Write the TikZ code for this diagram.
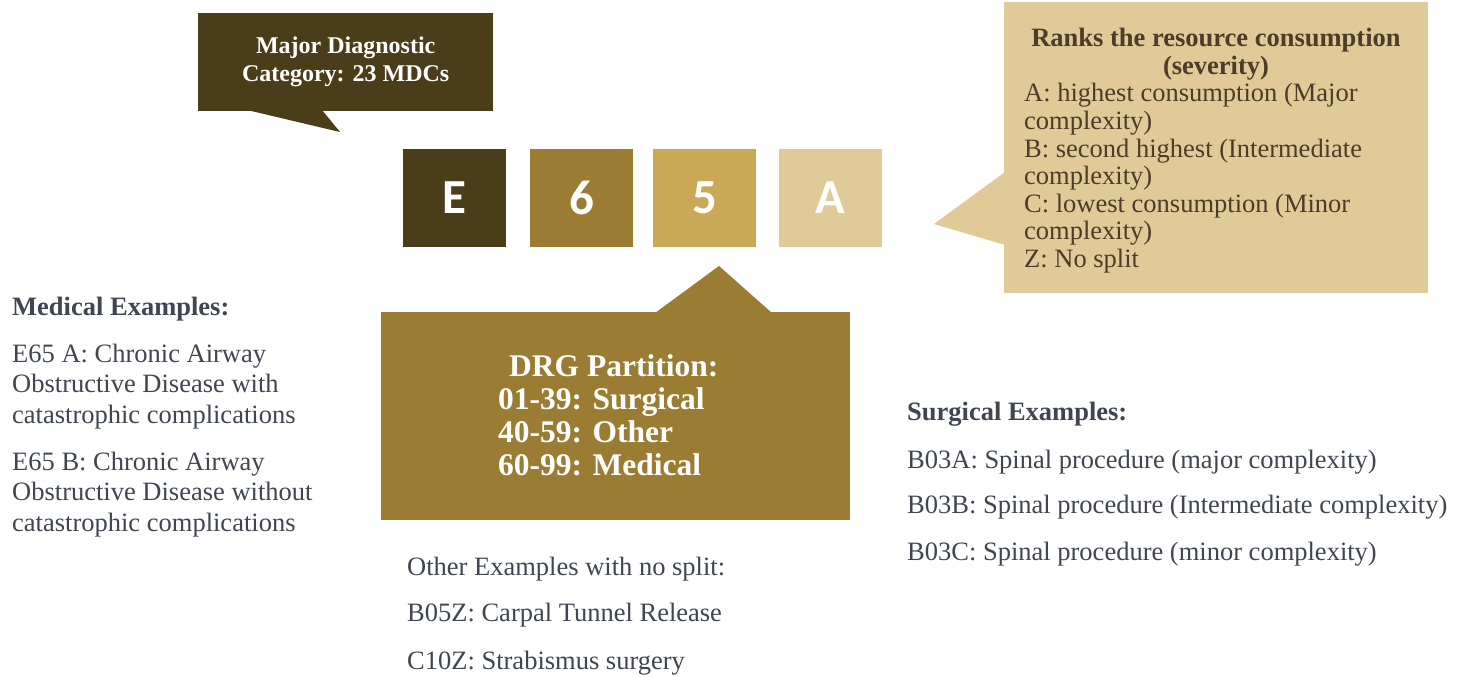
\documentclass[tikz,border=0pt]{standalone}
\usepackage{fontspec}
\setmainfont{Liberation Serif}
\newfontfamily\boxfont{Carlito}
\definecolor{cdark}{HTML}{4B3C1A}
\definecolor{cmid}{HTML}{9A7D33}
\definecolor{cgold}{HTML}{C9A857}
\definecolor{clight}{HTML}{DFCA98}
\definecolor{cgraytxt}{HTML}{3F4652}
\definecolor{cbrowntxt}{HTML}{4A3D2A}
\tikzset{
  letterbox/.style={minimum width=103pt, minimum height=98pt, inner sep=0pt, text=white,
    font=\boxfont\bfseries\fontsize{49}{52}\selectfont},
  bodytxt/.style={inner sep=0pt, anchor=base west, text=cgraytxt, font=\fontsize{26.5}{30}\selectfont},
  bodybold/.style={bodytxt, font=\bfseries\fontsize{26.5}{30}\selectfont},
  ranktxt/.style={inner sep=0pt, anchor=base west, text=cbrowntxt, font=\fontsize{26.5}{28}\selectfont},
  drgtxt/.style={inner sep=0pt, anchor=base west, text=white, font=\bfseries\fontsize{31.5}{33}\selectfont},
}
\begin{document}
\begin{tikzpicture}[x=1pt,y=-1pt]
\useasboundingbox[fill=white] (0,0) rectangle (1468,677);

% Major Diagnostic Category bubble
\node[fill=cdark, anchor=north west, minimum width=295pt, minimum height=98pt, inner sep=0pt,
      text=white, align=center, font=\bfseries\fontsize{24}{28}\selectfont] (mdc) at (198,13)
      {Major Diagnostic\\Category: 23 MDCs};
\fill[cdark] (247,110) -- (340,132) -- (322,110) -- cycle;

% code letters
\node[letterbox, fill=cdark] (E) at (454.5,198) {E};
\node[letterbox, fill=cmid] (six) at (581.5,198) {6};
\node[letterbox, fill=cgold] (five) at (704.5,198) {5};
\node[letterbox, fill=clight] (A) at (830.5,198) {A};

% Ranks bubble
\node[fill=clight, anchor=north west, minimum width=424pt, minimum height=291pt, inner sep=0pt] (rank) at (1004,2) {};
\fill[clight] (1005,172) -- (934,224) -- (1005,245) -- cycle;
\node[inner sep=0pt, anchor=base, text=cbrowntxt, font=\bfseries\fontsize{26.5}{28}\selectfont] (rt1) at (1216,47) {Ranks the resource consumption};
\node[inner sep=0pt, anchor=base, text=cbrowntxt, font=\bfseries\fontsize{26.5}{28}\selectfont] (rt2) at (1216,75) {(severity)};
\foreach \t [count=\i from 0] in {A: highest consumption (Major, complexity), B: second highest (Intermediate, complexity), C: lowest consumption (Minor, complexity), Z: No split}
  \node[ranktxt] (rank-\i) at (1024,102+27.5*\i) {\t};

% DRG partition bubble
\node[fill=cmid, anchor=north west, minimum width=469pt, minimum height=208pt, inner sep=0pt] (drg) at (381,312) {};
\fill[cmid] (655,313) -- (719,266) -- (772,313) -- cycle;
\node[drgtxt] (drg-0) at (509,376) {DRG Partition:};
\node[drgtxt] (drg-1) at (498,409) {01-39: Surgical};
\node[drgtxt] (drg-2) at (498,442) {40-59: Other};
\node[drgtxt] (drg-3) at (498,475) {60-99: Medical};

% Medical examples
\node[bodybold] (medh) at (12,315) {Medical Examples:};
\foreach \t [count=\i from 0] in {E65 A: Chronic Airway, Obstructive Disease with, catastrophic complications}
  \node[bodytxt] (meda-\i) at (12,362+30.5*\i) {\t};
\foreach \t [count=\i from 0] in {E65 B: Chronic Airway, Obstructive Disease without, catastrophic complications}
  \node[bodytxt] (medb-\i) at (12,470+30.5*\i) {\t};

% Surgical examples
\node[bodybold] (surh) at (907,420) {Surgical Examples:};
\node[bodytxt] (sur-1) at (907,468) {B03A: Spinal procedure (major complexity)};
\node[bodytxt] (sur-2) at (907,513) {B03B: Spinal procedure (Intermediate complexity)};
\node[bodytxt] (sur-3) at (907,560) {B03C: Spinal procedure (minor complexity)};

% Other examples
\node[bodytxt] (oth-0) at (407,575) {Other Examples with no split:};
\node[bodytxt] (oth-1) at (407,621) {B05Z: Carpal Tunnel Release};
\node[bodytxt] (oth-2) at (407,669) {C10Z: Strabismus surgery};
\end{tikzpicture}
\end{document}
